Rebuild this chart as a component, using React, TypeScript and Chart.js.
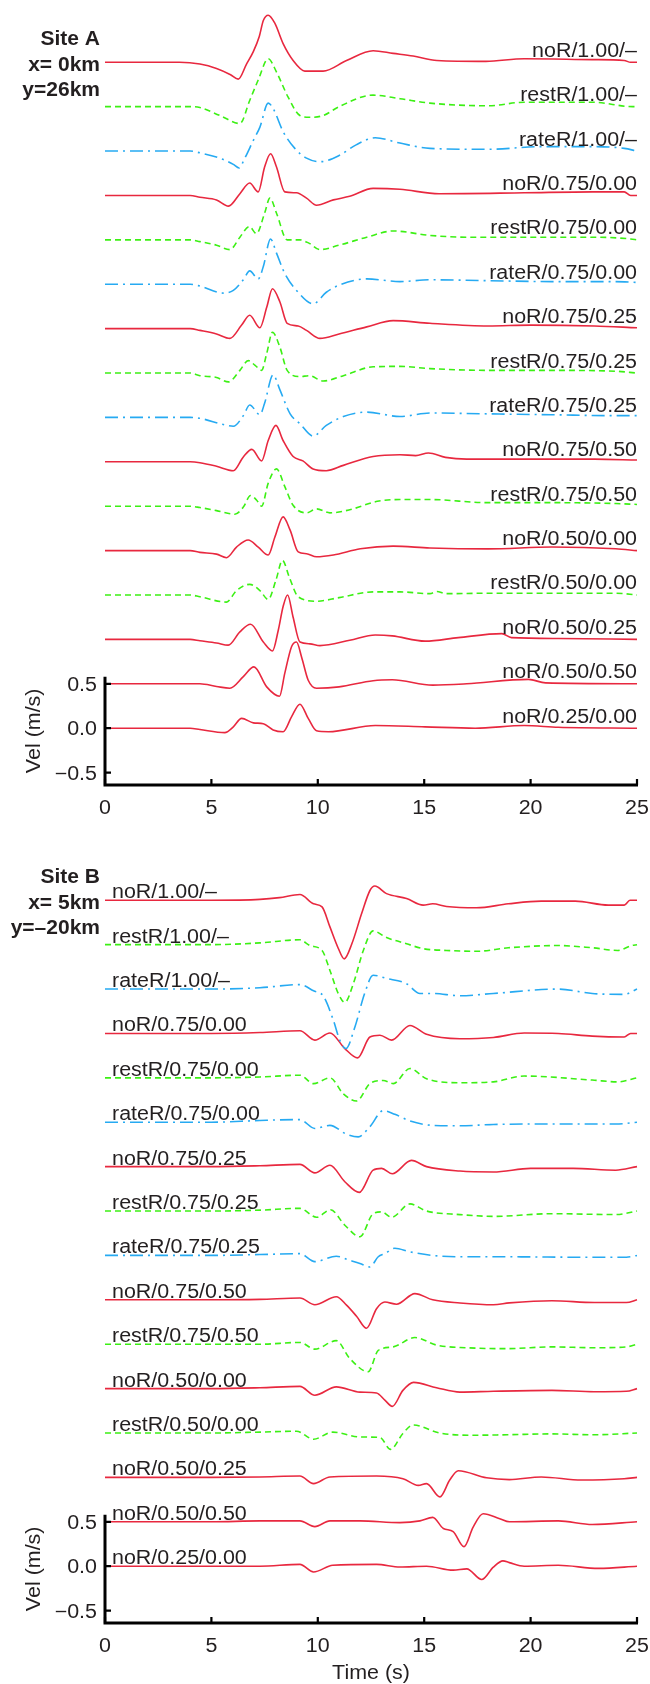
import React, { useEffect, useRef } from "react";
import { Chart, registerables } from "chart.js";
Chart.register(...registerables);

type Pt = [number, number];

// ---------- labels / ticks ----------
const traceLabels = [
  "noR/1.00/–", "restR/1.00/–", "rateR/1.00/–",
  "noR/0.75/0.00", "restR/0.75/0.00", "rateR/0.75/0.00",
  "noR/0.75/0.25", "restR/0.75/0.25", "rateR/0.75/0.25",
  "noR/0.75/0.50", "restR/0.75/0.50",
  "noR/0.50/0.00", "restR/0.50/0.00",
  "noR/0.50/0.25", "noR/0.50/0.50", "noR/0.25/0.00",
];
const traceOffsets = [7.5, 7.0, 6.5, 6.0, 5.5, 5.0, 4.5, 4.0, 3.5, 3.0, 2.5, 2.0, 1.5, 1.0, 0.5, 0.0];
const xTicks = [0, 5, 10, 15, 20, 25];
const yTicks = [-0.5, 0, 0.5];
const yTickLabels = ["−0.5", "0.0", "0.5"];
const siteALines = ["Site A", "x= 0km", "y=26km"];
const siteBLines = ["Site B", "x= 5km", "y=–20km"];

// ---------- Site A traces (time s, velocity m/s) ----------
const A_noR_100: Pt[] = [[0,0],[3.5,0],[4.46,-0.02],[5.24,-0.07],[5.9,-0.14],[6.26,-0.19],[6.65,-0.02],[6.97,0.12],[7.25,0.29],[7.44,0.47],[7.67,0.53],[7.98,0.44],[8.37,0.21],[8.84,0.02],[9.39,-0.1],[10.25,-0.1],[11.35,0.02],[12.6,0.13],[13.54,0.1],[14.48,0.07],[15.6,0.02],[17.9,0.01],[19.7,0.04],[22.9,0.03],[24.4,0.02],[24.7,0],[25,0]];
const A_restR_100: Pt[] = [[0,0],[4,0],[4.46,-0.01],[5.4,-0.1],[6.34,-0.19],[6.8,0.07],[7.2,0.3],[7.67,0.54],[8.06,0.39],[8.6,0.11],[9.16,-0.1],[9.6,-0.12],[10.25,-0.1],[11.0,0],[12.6,0.13],[13.86,0.09],[15.27,0.04],[18,0.01],[19.7,0.05],[22.9,0.05],[24.8,0],[25,0]];
const A_rateR_100: Pt[] = [[0,0],[4,0],[4.46,-0.02],[5.4,-0.08],[6.03,-0.15],[6.3,-0.19],[6.57,-0.08],[6.97,0.12],[7.28,0.27],[7.67,0.54],[7.9,0.48],[8.37,0.22],[8.92,0.03],[9.47,-0.08],[10.1,-0.12],[11.0,-0.05],[11.8,0.07],[12.7,0.15],[13.86,0.09],[15.27,0.03],[18,0.02],[20.5,0.05],[22.9,0.05],[24.4,0.03],[25,0]];
const A_noR_075_000: Pt[] = [[0,0],[4,0],[4.46,-0.02],[5.24,-0.05],[5.8,-0.12],[6.34,0.02],[6.8,0.14],[7.2,0.04],[7.5,0.32],[7.78,0.47],[8.06,0.32],[8.45,0.04],[9.0,0.03],[9.47,-0.03],[9.94,-0.11],[10.73,-0.05],[11.5,-0.01],[12.6,0.08],[13.86,0.07],[15.7,0.02],[19.7,0.03],[22.9,0.04],[24.4,0.04],[24.7,0],[25,0]];
const A_restR_075_000: Pt[] = [[0,0],[4,0],[4.46,-0.02],[5.24,-0.06],[5.87,-0.11],[6.34,0.03],[6.78,0.15],[7.12,0.07],[7.5,0.3],[7.75,0.47],[8.06,0.3],[8.56,0],[9.16,0],[9.6,-0.04],[10.1,-0.11],[11.0,-0.06],[12.3,0.03],[13.54,0.1],[15.27,0.05],[17,0.03],[20,0.03],[23,0.03],[24.7,0.01],[25,0]];
const A_rateR_075_000: Pt[] = [[0,0],[4,0],[4.46,-0.02],[5.56,-0.1],[6.03,-0.07],[6.5,0.05],[6.8,0.15],[7.2,0.06],[7.44,0.2],[7.78,0.51],[8.06,0.35],[8.45,0.12],[9.0,-0.07],[9.78,-0.22],[10.4,-0.09],[11.0,-0.01],[12.3,0.06],[13.86,0.03],[15.27,0.05],[18,0.04],[21,0.03],[24,0.03],[25,0.02]];
const A_noR_075_025: Pt[] = [[0,0],[4,0],[4.46,-0.02],[5.24,-0.06],[5.87,-0.11],[6.42,0.04],[6.8,0.15],[7.28,0.01],[7.6,0.24],[7.87,0.45],[8.22,0.3],[8.56,0.06],[9.08,0.03],[9.47,-0.02],[10.1,-0.11],[11.0,-0.06],[12.3,0.02],[13.54,0.09],[15.27,0.06],[18,0.03],[20,0.04],[23,0.03],[25,0.01]];
const A_restR_075_025: Pt[] = [[0,0],[4,0],[4.46,-0.03],[5.24,-0.05],[5.8,-0.1],[6.34,0.03],[6.73,0.14],[7.04,0.09],[7.36,0.03],[7.6,0.22],[7.87,0.46],[8.22,0.29],[8.56,0.03],[9.16,-0.04],[9.6,-0.03],[10.25,-0.09],[11.2,-0.03],[12.6,0.07],[13.86,0.075],[15.27,0.05],[18,0.03],[21,0.03],[24,0.02],[25,0]];
const A_rateR_075_025: Pt[] = [[0,0],[4,0],[4.46,-0.01],[5.56,-0.08],[6.03,-0.1],[6.5,0.02],[6.8,0.14],[7.28,0.03],[7.5,0.16],[7.9,0.48],[8.22,0.31],[8.7,0.04],[9.16,-0.07],[9.78,-0.21],[10.4,-0.09],[11.2,0.01],[12.3,0.06],[13.86,0.01],[15.27,0.05],[18,0.04],[21,0.03],[24,0.02],[25,0.02]];
const A_noR_075_050: Pt[] = [[0,0],[4,0],[4.46,-0.01],[5.24,-0.05],[6.03,-0.1],[6.5,0.055],[6.9,0.14],[7.36,0.01],[7.67,0.24],[8.03,0.41],[8.37,0.24],[8.84,0.06],[9.3,0.01],[9.78,-0.08],[10.4,-0.1],[11.2,-0.04],[12.6,0.06],[13.86,0.08],[14.6,0.07],[15.2,0.1],[16,0.05],[17,0.03],[20,0.03],[23,0.03],[25,0.02]];
const A_restR_075_050: Pt[] = [[0,0],[4,0],[4.46,-0.015],[5.24,-0.05],[6.1,-0.09],[6.5,-0.01],[6.84,0.12],[7.12,0.07],[7.36,0],[7.67,0.26],[8.06,0.42],[8.45,0.22],[8.84,0.01],[9.47,-0.075],[9.94,-0.03],[10.57,-0.075],[11.5,-0.04],[12.8,0.055],[13.86,0.075],[15.27,0.075],[18,0.04],[21,0.04],[24,0.03],[25,0.02]];
const A_noR_050_000: Pt[] = [[0,0],[4,0],[4.46,-0.02],[5.24,-0.04],[5.71,-0.08],[6.18,0.04],[6.73,0.12],[7.2,0.04],[7.67,-0.05],[7.98,0.15],[8.37,0.38],[8.7,0.23],[9.08,-0.015],[9.47,-0.035],[9.94,-0.07],[10.73,-0.05],[12.0,0.02],[13.54,0.05],[15.27,0.03],[18,0.02],[21,0.04],[24,0.02],[25,0]];
const A_restR_050_000: Pt[] = [[0,0],[4,0],[4.46,-0.02],[5.71,-0.08],[6.18,0.05],[6.8,0.12],[7.28,0.05],[7.67,-0.05],[8.03,0.165],[8.34,0.39],[8.66,0.2],[9.08,-0.02],[9.94,-0.07],[11.0,-0.03],[12.6,0.035],[13.86,0.035],[15.27,0.015],[15.6,0.04],[16,0.015],[18,0.02],[21,0.02],[24,0.02],[25,0]];
const A_noR_050_025: Pt[] = [[0,0],[4,0],[4.46,-0.015],[5.24,-0.04],[5.79,-0.065],[6.34,0.085],[6.84,0.17],[7.44,-0.03],[7.87,-0.13],[8.14,0.1],[8.37,0.37],[8.58,0.5],[8.84,0.25],[9.16,-0.03],[9.63,-0.05],[10.1,-0.07],[11.5,-0.01],[12.7,0.05],[13.5,0.04],[15.04,-0.02],[16.6,0.02],[18.65,0.065],[19.1,0.02],[21.3,0.01],[25,0]];
const A_noR_050_050: Pt[] = [[0,0],[4,0],[4.46,0],[5.24,-0.03],[5.87,-0.05],[6.5,0.08],[7.0,0.19],[7.6,-0.035],[8.2,-0.14],[8.45,0.12],[8.77,0.42],[9.0,0.47],[9.24,0.3],[9.55,0.04],[9.94,-0.05],[11.0,-0.035],[12.6,0.035],[13.5,0.045],[15.4,-0.015],[17.0,0],[19.9,0.05],[20.7,0.01],[25,0]];
const A_noR_025_000: Pt[] = [[0,0],[4,0],[4.46,-0.015],[5.63,-0.05],[6.03,0.015],[6.42,0.11],[6.97,0.06],[7.44,0.05],[7.9,-0.02],[8.37,-0.04],[8.77,0.13],[9.16,0.27],[9.55,0.11],[9.94,-0.03],[10.5,-0.04],[12.7,0.03],[15.04,0.015],[17.4,0],[19.7,0.03],[21.3,0.01],[25,0]];

// ---------- Site B traces ----------
const B_noR_100: Pt[] = [[0,0],[5,0],[7.28,0.01],[8.2,0.03],[9.16,0.065],[9.8,-0.04],[10.2,-0.075],[10.57,-0.3],[10.96,-0.54],[11.24,-0.66],[11.6,-0.49],[12.06,-0.15],[12.45,0.11],[12.68,0.16],[13.23,0.075],[14.17,0.02],[14.95,-0.055],[15.4,-0.04],[16.05,-0.07],[17.46,-0.085],[18.95,-0.04],[20.5,-0.01],[22.1,-0.01],[23.65,-0.055],[24.4,-0.055],[24.67,0],[25,0]];
const B_restR_100: Pt[] = [[0,0],[5,0],[7.28,0.02],[9.16,0.055],[9.63,-0.01],[10.2,-0.065],[10.57,-0.29],[10.96,-0.55],[11.27,-0.65],[11.67,-0.44],[12.14,-0.065],[12.6,0.155],[13.23,0.08],[14.17,0.01],[14.95,-0.045],[16.05,-0.065],[17.46,-0.075],[18.95,-0.035],[21.3,-0.01],[22.9,-0.035],[24.1,-0.065],[24.75,-0.01],[25,0]];
const B_rateR_100: Pt[] = [[0,0],[5,0],[7.28,0.015],[9.16,0.05],[9.8,-0.02],[10.26,-0.08],[10.73,-0.35],[11.04,-0.58],[11.32,-0.67],[11.74,-0.43],[12.2,-0.05],[12.6,0.155],[13.23,0.12],[14.17,0.06],[14.8,-0.05],[15.4,-0.05],[16.68,-0.075],[18.25,-0.05],[21.3,0],[22.9,-0.05],[24.4,-0.06],[25,0]];
const B_noR_075_000: Pt[] = [[0,0],[5,0],[7.28,0.01],[9.16,0.03],[9.86,-0.075],[10.57,0.005],[11.27,-0.17],[11.87,-0.275],[12.45,-0.04],[12.92,-0.02],[13.47,-0.075],[14.33,0.09],[15.11,-0.01],[16.68,-0.06],[18.25,-0.045],[19.7,0.005],[21.3,0],[22.9,-0.03],[24.4,-0.04],[24.7,0],[25,0]];
const B_restR_075_000: Pt[] = [[0,0],[5,0],[7.28,0.01],[9.16,0.03],[9.8,-0.065],[10.57,0],[11.2,-0.18],[11.82,-0.26],[12.45,-0.065],[13.07,-0.03],[13.55,-0.065],[14.33,0.105],[15.11,-0.01],[16.68,-0.055],[18.25,-0.045],[19.7,0.02],[22.9,-0.025],[24.1,-0.045],[25,0]];
const B_rateR_075_000: Pt[] = [[0,0],[5,0],[7.28,0.02],[9.16,0.03],[9.86,-0.07],[10.57,-0.035],[11.35,-0.135],[11.9,-0.165],[12.45,-0.05],[13.07,0.13],[13.62,0.09],[14.33,0.015],[15.4,-0.035],[16.68,-0.04],[18.25,-0.025],[21,-0.02],[24,-0.02],[25,0]];
const B_noR_075_025: Pt[] = [[0,0],[5,0],[7.28,0.01],[9.16,0.025],[9.86,-0.07],[10.57,0.015],[11.27,-0.17],[11.95,-0.29],[12.6,-0.04],[13.0,-0.02],[13.5,-0.08],[14.4,0.07],[15.11,0],[16.68,-0.05],[18.25,-0.06],[20,-0.02],[22,-0.02],[24,-0.04],[25,0]];
const B_restR_075_025: Pt[] = [[0,0],[5,0],[7.28,0.01],[9.16,0.03],[9.94,-0.07],[10.6,0.015],[11.27,-0.16],[11.98,-0.29],[12.6,-0.03],[13.0,-0.01],[13.47,-0.07],[14.33,0.08],[15.11,0],[16.68,-0.04],[18.25,-0.06],[21,-0.03],[24,-0.04],[25,0]];
const B_rateR_075_025: Pt[] = [[0,0],[5,0],[7.28,0.01],[9.16,0.02],[9.86,-0.07],[10.87,-0.01],[11.5,-0.055],[11.98,-0.09],[12.45,-0.13],[12.84,-0.015],[13.15,0.02],[13.62,0.08],[14.33,0.04],[15.4,0],[16.68,-0.015],[18.55,-0.015],[22,-0.02],[24.5,-0.02],[25,0]];
const B_noR_075_050: Pt[] = [[0,0],[5,0],[7.28,0.005],[9.16,0.02],[9.86,-0.055],[10.87,0.035],[11.35,-0.06],[11.82,-0.185],[12.29,-0.32],[12.76,-0.1],[13.15,-0.025],[13.7,-0.05],[14.56,0.07],[15.4,0],[16.68,-0.035],[18.25,-0.055],[19,-0.035],[21,-0.01],[23,-0.03],[24.5,-0.03],[25,0]];
const B_restR_075_050: Pt[] = [[0,0],[5,0],[7.28,0],[9.16,0.02],[9.86,-0.055],[10.87,0.04],[11.5,-0.16],[12.37,-0.31],[12.84,-0.07],[13.55,-0.03],[14.56,0.075],[15.58,-0.01],[17.0,-0.04],[18.9,-0.05],[21,-0.03],[23,-0.04],[24.5,-0.03],[25,0]];
const B_noR_050_000: Pt[] = [[0,0],[5,0],[7.28,0.01],[9.16,0.025],[9.86,-0.075],[10.87,0.02],[11.98,-0.04],[12.76,-0.05],[13.15,-0.13],[13.5,-0.2],[14.0,-0.02],[14.5,0.07],[15.58,0.01],[16.68,-0.04],[18.25,-0.03],[21,-0.02],[23,-0.035],[24.5,-0.03],[25,0]];
const B_restR_050_000: Pt[] = [[0,0],[5,0],[7.28,0.01],[9.0,0.02],[9.8,-0.07],[10.7,0.01],[11.98,-0.045],[12.92,-0.05],[13.42,-0.185],[14.0,-0.005],[14.48,0.09],[15.74,0],[17.3,-0.025],[18.9,-0.02],[21,-0.01],[23,-0.02],[25,0]];
const B_noR_050_025: Pt[] = [[0,0],[5,0],[7.28,0.005],[9.16,0.015],[9.8,-0.07],[10.57,0.005],[12.76,0.015],[14.0,-0.015],[14.72,-0.09],[15.11,-0.07],[15.74,-0.22],[16.2,-0.03],[16.6,0.075],[17.93,-0.005],[19.0,-0.025],[20.5,0.005],[22.4,-0.03],[24.4,-0.015],[25,0]];
const B_noR_050_050: Pt[] = [[0,0],[5,0],[7.28,0.01],[9.16,0.01],[9.86,-0.055],[10.57,0.01],[11.98,0.01],[13.86,-0.01],[14.8,0.01],[15.4,0.05],[15.9,-0.075],[16.36,-0.11],[16.87,-0.28],[17.3,-0.06],[17.77,0.09],[18.55,0.035],[19.0,0],[21.3,0.01],[22.9,-0.03],[25,0]];
const B_noR_025_000: Pt[] = [[0,0],[5,0],[7.28,0],[9.16,0.02],[9.8,-0.065],[10.7,0.01],[12.76,0.02],[13.86,-0.01],[15.11,0],[16.36,-0.045],[17.0,-0.03],[17.7,-0.15],[18.25,-0.01],[18.7,0.06],[19.0,0.04],[19.7,0],[21.3,0.01],[23.2,-0.025],[25,0]];

const siteATraces = [A_noR_100, A_restR_100, A_rateR_100, A_noR_075_000, A_restR_075_000, A_rateR_075_000, A_noR_075_025, A_restR_075_025, A_rateR_075_025, A_noR_075_050, A_restR_075_050, A_noR_050_000, A_restR_050_000, A_noR_050_025, A_noR_050_050, A_noR_025_000];
const siteBTraces = [B_noR_100, B_restR_100, B_rateR_100, B_noR_075_000, B_restR_075_000, B_rateR_075_000, B_noR_075_025, B_restR_075_025, B_rateR_075_025, B_noR_075_050, B_restR_075_050, B_noR_050_000, B_restR_050_000, B_noR_050_025, B_noR_050_050, B_noR_025_000];

// ---------- styles ----------
const COLORS: Record<string, string> = { noR: "#e8283f", restR: "#3cf014", rateR: "#26aaf2" };
const DASHES: Record<string, number[]> = { noR: [], restR: [6, 4], rateR: [13, 5, 2, 5] };
const TEXT = "#231f20";
const FONT = '19.5px "Liberation Sans", Arial, sans-serif';
const BOLD = 'bold 21px "Liberation Sans", Arial, sans-serif';
const SX = 1.1;

function stext(ctx: CanvasRenderingContext2D, s: string, x: number, y: number, align: CanvasTextAlign, font: string, sx: number) {
  ctx.save();
  ctx.translate(x, y);
  ctx.scale(sx, 1);
  ctx.font = font;
  ctx.fillStyle = TEXT;
  ctx.textAlign = align;
  ctx.textBaseline = "alphabetic";
  ctx.fillText(s, 0, 0);
  ctx.restore();
}

type PanelProps = {
  traces: Pt[][];
  site: string[];
  labelSide: "right" | "left";
  padTop: number;
  padBottom: number;
  timeTitle: boolean;
};

function Panel({ traces, site, labelSide, padTop, padBottom, timeTitle }: PanelProps) {
  const ref = useRef<HTMLCanvasElement | null>(null);
  useEffect(() => {
    if (!ref.current) return;
    const datasets = traces.map((tr, i) => {
      const kind = traceLabels[i].split("/")[0];
      return {
        label: traceLabels[i],
        data: tr.map(([t, v]) => ({ x: t, y: v + traceOffsets[i] })),
        borderColor: COLORS[kind],
        borderWidth: 1.6,
        borderDash: DASHES[kind],
        cubicInterpolationMode: "monotone" as const,
        pointRadius: 0,
        fill: false,
        clip: false as any,
      };
    });
    const deco = {
      id: "deco",
      afterDraw(chart: any) {
        const ctx: CanvasRenderingContext2D = chart.ctx;
        const xs = chart.scales.x;
        const ys = chart.scales.y;
        const x0 = xs.getPixelForValue(0);
        const x1 = xs.getPixelForValue(25);
        const yb = chart.chartArea.bottom;
        const yTop = ys.getPixelForValue(0.58);
        ctx.save();
        ctx.strokeStyle = "#000";
        ctx.lineWidth = 3;
        ctx.lineJoin = "miter";
        ctx.beginPath();
        ctx.moveTo(x0, yTop);
        ctx.lineTo(x0, yb);
        ctx.lineTo(x1 + 1, yb);
        ctx.stroke();
        ctx.lineWidth = 2.2;
        ctx.beginPath();
        for (const t of xTicks) {
          const px = xs.getPixelForValue(t);
          ctx.moveTo(px, yb);
          ctx.lineTo(px, yb - 6);
        }
        for (const v of yTicks) {
          const py = ys.getPixelForValue(v);
          ctx.moveTo(x0, py);
          ctx.lineTo(x0 + 6, py);
        }
        ctx.stroke();
        ctx.restore();
        // tick labels
        for (const t of xTicks) {
          stext(ctx, String(t), xs.getPixelForValue(t), yb + 29, "center", FONT, SX);
        }
        yTicks.forEach((v, k) => {
          stext(ctx, yTickLabels[k], 97, ys.getPixelForValue(v) + 7, "right", FONT, SX);
        });
        // y title
        ctx.save();
        ctx.translate(40, (yTop + yb) / 2);
        ctx.rotate(-Math.PI / 2);
        ctx.scale(SX, 1);
        ctx.font = FONT;
        ctx.fillStyle = TEXT;
        ctx.textAlign = "center";
        ctx.textBaseline = "alphabetic";
        ctx.fillText("Vel (m/s)", 0, 0);
        ctx.restore();
        // trace labels
        traceLabels.forEach((lab, i) => {
          const py = ys.getPixelForValue(traceOffsets[i]);
          if (labelSide === "right") stext(ctx, lab, x1, py - 5.5, "right", FONT, SX);
          else stext(ctx, lab, 112, py - 2, "left", FONT, SX);
        });
        // site
        const base = ys.getPixelForValue(traceOffsets[0]);
        const offs = [-17, 8.5, 33.5];
        site.forEach((s, k) => stext(ctx, s, 100, base + offs[k], "right", BOLD, 1));
        if (timeTitle) stext(ctx, "Time (s)", (x0 + x1) / 2, chart.height - 5, "center", FONT, SX);
      },
    };
    const chart = new Chart(ref.current, {
      type: "line",
      data: { datasets: datasets as any },
      options: {
        animation: false,
        responsive: false,
        maintainAspectRatio: false,
        layout: { padding: { left: 105, right: 13, top: padTop, bottom: padBottom } },
        scales: {
          x: { type: "linear", min: 0, max: 25, display: false },
          y: { type: "linear", min: -0.64, max: 8.1, display: false },
        },
        plugins: { legend: { display: false }, tooltip: { enabled: false } },
        elements: { point: { radius: 0 } },
      },
      plugins: [deco],
    });
    return () => chart.destroy();
  }, [traces, site, labelSide, padTop, padBottom, timeTitle]);
  return <canvas ref={ref} width={650} height={842} style={{ display: "block", width: 650, height: 842 }} />;
}

export default function App() {
  return (
    <div style={{ position: "absolute", left: 0, top: 0, width: 650, height: 1684, background: "#fff" }}>
      <Panel traces={siteATraces} site={siteALines} labelSide="right" padTop={9} padBottom={57} timeTitle={false} />
      <Panel traces={siteBTraces} site={siteBLines} labelSide="left" padTop={5} padBottom={61} timeTitle={true} />
    </div>
  );
}
